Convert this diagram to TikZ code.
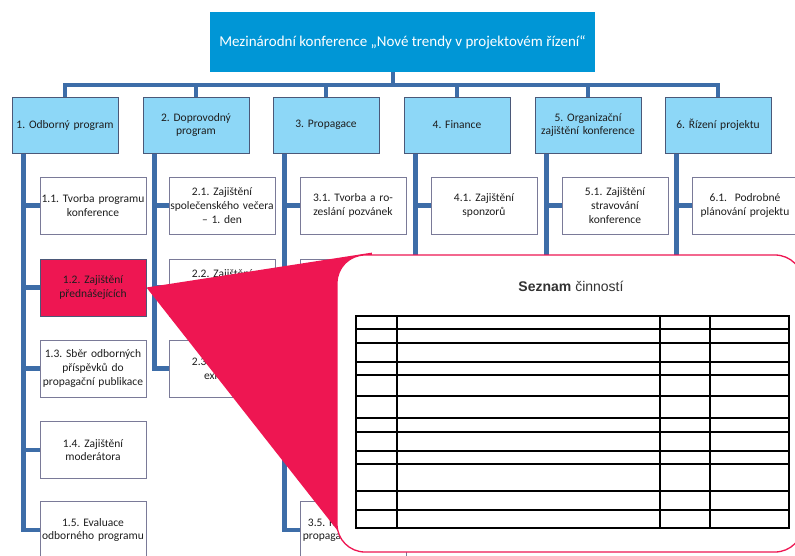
\documentclass[tikz,border=0pt]{standalone}
\usepackage{fontspec}
\setmainfont{Carlito}
\newfontfamily\arialf{Liberation Sans}
\usetikzlibrary{backgrounds}
\definecolor{topblue}{HTML}{0096D6}
\definecolor{lvlblue}{HTML}{8DD7F7}
\definecolor{lvlborder}{HTML}{4B5878}
\definecolor{conn}{HTML}{3D6DA8}
\definecolor{wbsborder}{HTML}{7A7A98}
\definecolor{pinkc}{HTML}{EE1652}
\definecolor{txt}{HTML}{1E1E1E}
\frenchspacing
\begin{document}
\begin{tikzpicture}[x=1pt,y=-1pt,
  lvlone/.style={draw=lvlborder, line width=1pt, fill=lvlblue, minimum width=106pt, minimum height=56pt, text width=105pt, align=center, font=\fontsize{11.5}{13.8}\selectfont, text=txt, inner sep=0.5pt},
  lvltwo/.style={draw=wbsborder, line width=1pt, fill=white, minimum width=106pt, minimum height=57pt, text width=105pt, align=center, font=\fontsize{11.5}{13.8}\selectfont, text=txt, inner sep=0.5pt},
  hot/.style={lvltwo, fill=pinkc, draw=lvlborder},
  link/.style={draw=conn, line width=4.5pt},
  tline/.style={draw=black, line width=1.4pt}
]
\useasboundingbox (0,0) rectangle (795,555);
\clip (0,0) rectangle (795,555);
% top
\node[fill=topblue, minimum width=385pt, minimum height=60pt, text=white, font=\fontsize{15}{17}\selectfont, inner sep=0pt] (top) at (402.5,42) {Mezinárodní konference „Nové trendy v projektovém řízení“};
% level 1
\node[lvlone] (n1) at (65,125) {1. Odborný program};
\node[lvlone] (n2) at (196,125) {2. Doprovodný\\program};
\node[lvlone] (n3) at (326,125) {3. Propagace};
\node[lvlone] (n4) at (457,125) {4. Finance};
\node[lvlone] (n5) at (588,125) {5. Organizační\\zajištění konference};
\node[lvlone] (n6) at (718,125) {6. Řízení projektu};
% level 2
\node[lvltwo] (c11) at (93,205.5) {1.1. Tvorba programu\\konference};
\node[hot] (c12) at (93,287.5) {1.2. Zajištění\\přednášejících};
\node[lvltwo] (c13) at (93,368.5) {1.3. Sběr odborných\\příspěvků do\\propagační publikace};
\node[lvltwo] (c14) at (93,450) {1.4. Zajištění\\moderátora};
\node[lvltwo] (c15) at (93,530) {1.5. Evaluace\\odborného programu};
\node[lvltwo] (c21) at (222,205.5) {2.1. Zajištění\\společenského večera\\– 1. den};
\node[lvltwo] (c22) at (222,287.5) {2.2. Zajištění\\společenského večera\\– 2. den};
\node[lvltwo] (c23) at (222,368.5) {2.3. Zajištění\\exkurze};
\node[lvltwo] (c31) at (353,205.5) {3.1. Tvorba a ro-\\zeslání pozvánek};
\node[lvltwo] (c32) at (353,287.5) {};
\node[lvltwo] (c33) at (353,368.5) {};
\node[lvltwo] (c34) at (353,450) {};
\node[lvltwo] (c35) at (353,530) {3.5. Realizace tisku\\propagační publikace};
\node[lvltwo] (c41) at (484,205.5) {4.1. Zajištění\\sponzorů};
\node[lvltwo] (c51) at (615,205.5) {5.1. Zajištění\\stravování\\konference};
\node[lvltwo] (c61) at (745,205.5) {6.1.\ \ Podrobné\\plánování projektu};
\coordinate (bus) at (393,85);
\begin{scope}[on background layer]
\fill[white] (0,0) rectangle (795,555);
\draw[link] (top.south -| bus) -- (bus);
\foreach \n in {n1,n2,n3,n4,n5,n6} {\draw[link] (\n.north) |- (bus);}
\foreach \c in {c11,c12,c13,c14,c15} {\draw[link] ([xshift=12pt]n1.south west) |- (\c.west);}
\foreach \c in {c21,c22,c23} {\draw[link] ([xshift=12pt]n2.south west) |- (\c.west);}
\foreach \c in {c31,c32,c33,c34,c35} {\draw[link] ([xshift=12pt]n3.south west) |- (\c.west);}
\draw[link] ([xshift=12pt]n4.south west) |- (c41.west);
\draw[link] ([xshift=12pt]n5.south west) |- (c51.west);
\draw[link] ([xshift=12pt]n6.south west) |- (c61.west);
\draw[link] ([xshift=12pt]n4.south west) -- ++(0,200);
\draw[link] ([xshift=12pt]n5.south west) -- ++(0,200);
\draw[link] ([xshift=12pt]n6.south west) -- ++(0,200);
\end{scope}
% callout
\fill[pinkc] (c12.east) -- (372,252.6) -- (345,540) -- cycle;
\draw[pinkc, line width=1.3pt, fill=white, rounded corners=28pt] (337,255) rectangle (803,552);
\node[font=\arialf\fontsize{14}{16}\selectfont, text=black!80, inner sep=0pt] (title) at (571,286) {\textbf{Seznam} činností};
\draw[tline] (356,316) rectangle (789,528);
\foreach \x in {397,660,710} {\draw[tline] (\x,316) -- (\x,528);}
\foreach \y in {329,343,362,375,396,418,432,451,464,491,510} {\draw[tline] (356,\y) -- (789,\y);}
\end{tikzpicture}
\end{document}
